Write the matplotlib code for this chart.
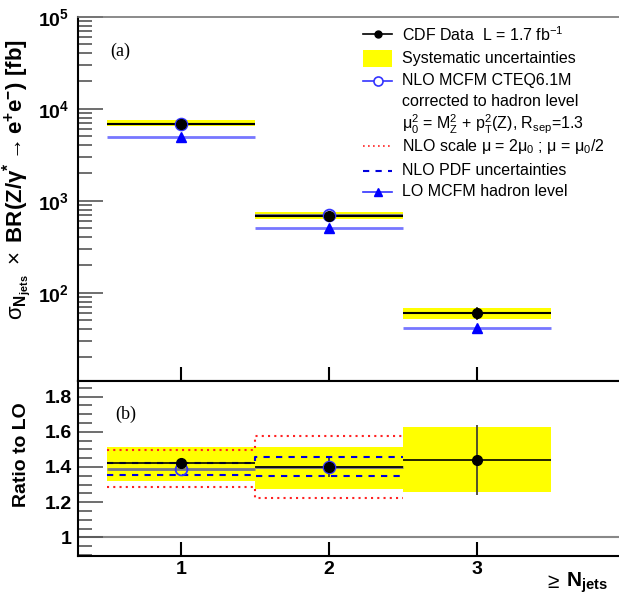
import numpy as np
import matplotlib
matplotlib.use("Agg")
import matplotlib.pyplot as plt
from matplotlib.lines import Line2D
from matplotlib.patches import Rectangle
from matplotlib.ticker import FixedLocator, MultipleLocator, FuncFormatter, LogLocator, NullFormatter

plt.rcParams['font.family'] = ['Liberation Sans', 'DejaVu Sans']
plt.rcParams['mathtext.fontset'] = 'custom'
plt.rcParams['mathtext.rm'] = 'Liberation Sans'
plt.rcParams['mathtext.it'] = 'Liberation Sans:italic'
plt.rcParams['mathtext.bf'] = 'Liberation Sans:bold'
plt.rcParams['mathtext.default'] = 'regular'

# ---------------- data ----------------
njets = [1, 2, 3]
bin_width = 1.0
data_xs = [6870, 687, 59.7]
data_stat_lo = [6800, 675, 50.0]
data_stat_hi = [6940, 700, 70.0]
sys_lo = [6470, 632, 51.8]
sys_hi = [7460, 748, 68.7]
nlo_bins = [1, 2]
nlo_xs = [6830, 700]
lo_xs = [4915, 501, 41.7]

ratio_data = [1.42, 1.398, 1.44]
ratio_stat = [0.01, 0.055, 0.20]
ratio_sys_lo = [1.322, 1.275, 1.256]
ratio_sys_hi = [1.514, 1.514, 1.625]
ratio_nlo = [1.39, 1.398]
ratio_scale_lo = [1.284, 1.224]
ratio_scale_hi = [1.497, 1.576]
ratio_pdf_lo = [1.356, 1.347]
ratio_pdf_hi = [1.424, 1.457]

W, H = 619, 601
def fx(px): return px / W
def fy(py): return 1 - py / H

fig = plt.figure(figsize=(6.19, 6.01), dpi=100)
left = fx(77.5)
ax1 = fig.add_axes([left, fy(380.7), 1 - left, fy(16.7) - fy(380.7)])
ax2 = fig.add_axes([left, fy(555.7), 1 - left, fy(380.7) - fy(555.7)])

xlim = (0.3027, 3.961)
YEL = '#ffff00'
LOBLUE = '#7777ff'

# ---------------- upper panel ----------------
ax1.set_yscale('log')
b = np.array(njets, float)
ax1.bar(b, np.array(sys_hi) - np.array(sys_lo), bottom=sys_lo, width=bin_width,
        color=YEL, edgecolor='none', zorder=1)
ax1.hlines(lo_xs, b - 0.5, b + 0.5, color=LOBLUE, lw=2, zorder=2)
ax1.plot(b, lo_xs, ls='none', marker='^', ms=6.5, color='#0000ff', zorder=5)
nb = np.array(nlo_bins, float)
ax1.hlines(nlo_xs, nb - 0.5, nb + 0.5, color='#777788', lw=1.5, zorder=3)
ax1.hlines(data_xs, b - 0.5, b + 0.5, color='k', lw=1.5, zorder=4)
ax1.vlines(b, data_stat_lo, data_stat_hi, color='#333333', lw=1.2, zorder=4)
ax1.plot(nb, nlo_xs, ls='none', marker='o', ms=8.5, mfc='none', mec='#3333ff', mew=1.3, zorder=6)
ax1.plot(b, data_xs, ls='none', marker='o', ms=7, color='k', zorder=7)

ax1.set_xlim(*xlim)
ax1.set_ylim(11.05, 1e5)
ax1.yaxis.set_major_locator(LogLocator(base=10, numticks=10))
ax1.yaxis.set_minor_locator(LogLocator(base=10, subs=np.arange(2, 10), numticks=10))
ax1.yaxis.set_minor_formatter(NullFormatter())
ax1.yaxis.set_major_formatter(FuncFormatter(lambda v, p: r'$\mathbf{10^{%d}}$' % round(np.log10(v))))
ax1.tick_params(axis='y', which='major', direction='in', length=18, width=1.2, color='#555555',
                labelsize=14, pad=6)
ax1.tick_params(axis='y', which='minor', direction='in', length=10, width=1.2, color='#555555')
ax1.xaxis.set_major_locator(FixedLocator(njets))
ax1.tick_params(axis='x', which='major', direction='in', length=10, width=1.5, labelbottom=False)
ax1.spines['right'].set_visible(False)
ax1.spines['top'].set_color('#777777')
ax1.spines['left'].set_linewidth(1.5)
ax1.spines['bottom'].set_linewidth(1.5)
ax1.spines['top'].set_linewidth(1.2)
ax1.text(fx(110), fy(51.7), '(a)', transform=fig.transFigure, family='Liberation Serif',
         fontsize=13, va='center', ha='left')

# ---------------- lower panel ----------------
ax2.axhline(1.0, color='#888888', lw=1.5, zorder=1)
ax2.bar(b, np.array(ratio_sys_hi) - np.array(ratio_sys_lo), bottom=ratio_sys_lo, width=bin_width,
        color=YEL, edgecolor='none', zorder=1)
edges = [0.5, 1.5, 2.5]
ax2.step(edges, ratio_scale_hi + ratio_scale_hi[-1:], where='post', color='#ff2222', ls=(0, (1, 2)), lw=1.5, zorder=2)
ax2.step(edges, ratio_scale_lo + ratio_scale_lo[-1:], where='post', color='#ff2222', ls=(0, (1, 2)), lw=1.5, zorder=2)
ax2.step(edges, ratio_pdf_hi + ratio_pdf_hi[-1:], where='post', color='#0000dd', ls=(0, (3, 3)), lw=1.5, zorder=3)
ax2.step(edges, ratio_pdf_lo + ratio_pdf_lo[-1:], where='post', color='#0000dd', ls=(0, (3, 3)), lw=1.5, zorder=3)
ax2.hlines(ratio_nlo, nb - 0.5, nb + 0.5, color='#777788', lw=2, zorder=3)
ax2.hlines(ratio_data, b - 0.5, b + 0.5, color='k', lw=1.2, zorder=4)
ax2.vlines(b, np.array(ratio_data) - np.array(ratio_stat), np.array(ratio_data) + np.array(ratio_stat),
           color='#333333', lw=1.2, zorder=4)
ax2.plot(nb, ratio_nlo, ls='none', marker='o', ms=8.5, mfc='none', mec='#3333ff', mew=1.3, zorder=6)
ax2.plot(b, ratio_data, ls='none', marker='o', ms=7, color='k', zorder=7)

ax2.set_xlim(*xlim)
ax2.set_ylim(0.896, 1.89)
ax2.yaxis.set_major_locator(FixedLocator([1.0, 1.2, 1.4, 1.6, 1.8]))
ax2.yaxis.set_minor_locator(MultipleLocator(0.05))
ax2.yaxis.set_major_formatter(FuncFormatter(lambda v, p: '%g' % round(v, 1)))
ax2.tick_params(axis='y', which='major', direction='in', length=18, width=1.2, color='#555555',
                labelsize=14, pad=4)
ax2.tick_params(axis='y', which='minor', direction='in', length=10, width=1.2, color='#555555')
for t in ax2.get_yticklabels():
    t.set_fontweight('bold')
ax2.xaxis.set_major_locator(FixedLocator(njets))
ax2.xaxis.set_major_formatter(FuncFormatter(lambda v, p: '%d' % v))
ax2.tick_params(axis='x', which='major', direction='in', length=10, width=1.5, labelsize=14, pad=4)
for t in ax2.get_xticklabels():
    t.set_fontweight('bold')
ax2.spines['right'].set_visible(False)
for s in ['left', 'top', 'bottom']:
    ax2.spines[s].set_linewidth(1.5)
ax2.text(fx(115), fy(414), '(b)', transform=fig.transFigure, family='Liberation Serif',
         fontsize=13, va='center', ha='left')

# ---------------- axis titles ----------------
fig.text(fx(17), fy(180), r'$\sigma_{\mathbf{N_{jets}}}\ \times\ \mathbf{BR(Z/\gamma^{*}{\rightarrow}e^{+}e^{-})\ [fb]}$',
         rotation=90, fontsize=16, ha='center', va='center')
fig.text(fx(22), fy(455), 'Ratio to LO', rotation=90, fontsize=14, fontweight='bold', ha='center', va='center')
fig.text(fx(547), fy(583), '\u2265', fontsize=15, ha='left', va='center')
fig.text(fx(566), fy(583), r'$\mathbf{N_{jets}}$', fontsize=15, ha='left', va='center')

# ---------------- legend ----------------
rows = [34.3, 58, 80.7, 101.7, 124, 146, 170.7, 192]
labels = [r'CDF Data  L = 1.7 fb$^{-1}$',
          'Systematic uncertainties',
          'NLO MCFM CTEQ6.1M',
          'corrected to hadron level',
          r'$\mu_0^2$ = M$_Z^2$ + p$_T^2$(Z), R$_{sep}$=1.3',
          r'NLO scale $\mu$ = 2$\mu_0$ ; $\mu$ = $\mu_0$/2',
          'NLO PDF uncertainties',
          'LO MCFM hadron level']
for r, lab in zip(rows, labels):
    fig.text(fx(402), fy(r), lab, fontsize=11.5, ha='left', va='center')
x0, x1, xm = fx(363), fx(392), fx(377.5)
def hline(r, **kw):
    fig.add_artist(Line2D([x0, x1], [fy(r), fy(r)], transform=fig.transFigure, **kw))
def mark(r, **kw):
    fig.add_artist(Line2D([xm], [fy(r)], transform=fig.transFigure, ls='none', **kw))
hline(rows[0], color='k', lw=1.2); mark(rows[0], marker='o', ms=5, color='k')
fig.add_artist(Rectangle((x0, fy(66.7)), x1 - x0, fy(50) - fy(66.7), transform=fig.transFigure,
                         color=YEL, lw=0))
hline(rows[2], color='#3333ff', lw=1.2); mark(rows[2], marker='o', ms=6.5, mfc='white', mec='#3333ff', mew=1.2)
hline(rows[5], color='#ff2222', lw=1.2, ls=(0, (1, 2)))
hline(rows[6], color='#0000dd', lw=1.5, ls=(0, (3, 3)))
hline(rows[7], color='#3333ff', lw=1.2); mark(rows[7], marker='^', ms=5.5, color='#0000ff')

fig.savefig('out.png', dpi=100)
